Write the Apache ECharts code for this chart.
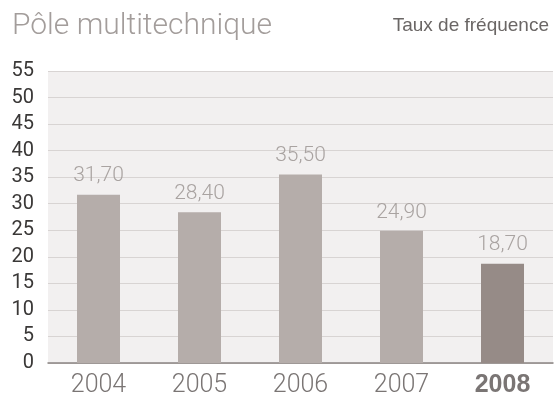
<!DOCTYPE html>
<html>
<head>
<meta charset="utf-8">
<script src="https://cdn.jsdelivr.net/npm/echarts@6/dist/echarts.min.js"></script>
<style>
	* { margin: 0; padding: 0; }
	body { background: #fff; }
	#main { width: 558px; height: 411px; }
</style>
</head>
<body>
<div id="main"></div>
<script>
	var years = ['2004', '2005', '2006', '2007', '2008'];
	var values = [31.7, 28.4, 35.5, 24.9, 18.7];
	var yTicks = [0, 5, 10, 15, 20, 25, 30, 35, 40, 45, 50, 55];

	var barColor = '#b5adaa';
	var lastColor = '#968b87';

	var chart = echarts.init(document.getElementById('main'));
	chart.setOption({
		animation: false,
		textStyle: { fontFamily: 'Roboto, sans-serif' },
		title: [{
			text: 'Pôle multitechnique',
			left: 7,
			top: 6,
			textStyle: { fontSize: 30, fontWeight: 300, color: '#a39d9b', fontFamily: 'Roboto' }
		}, {
			text: 'Taux de fréquence',
			right: 4,
			top: 11,
			textStyle: { fontSize: 19, fontWeight: 'normal', color: '#6a6665', fontFamily: '"Liberation Sans", Arial' }
		}],
		grid: {
			left: 48,
			right: 5,
			top: 71,
			bottom: 48,
			show: true,
			backgroundColor: '#f2f0f0',
			borderWidth: 0
		},
		xAxis: {
			type: 'category',
			data: years,
			axisTick: { show: false },
			axisLine: { lineStyle: { color: '#8a8483', width: 1.5 } },
			axisLabel: {
				interval: 0,
				fontSize: 25,
				color: '#7a7574',
				fontWeight: 300,
				margin: 10,
				formatter: function (v) {
					return v === '2008' ? '{b|' + v + '}' : v;
				},
				rich: {
					b: { fontSize: 25, fontWeight: 'bold', color: '#7a7574', fontFamily: '"Liberation Sans", Arial' }
				}
			}
		},
		yAxis: {
			type: 'value',
			min: 0,
			max: 55,
			interval: 5,
			axisLine: { show: false },
			axisTick: { show: false },
			splitLine: { lineStyle: { color: '#d8d4d3', width: 1 } },
			axisLabel: {
				fontSize: 20,
				color: '#3a3837',
				margin: 14,
				customValues: yTicks
			}
		},
		series: [{
			type: 'bar',
			barWidth: 43,
			data: values.map(function (v, i) {
				return { value: v, itemStyle: { color: i === values.length - 1 ? lastColor : barColor } };
			}),
			label: {
				show: true,
				position: 'top',
				distance: 8,
				fontSize: 21,
				fontWeight: 300,
				color: '#a9a3a1',
				formatter: function (p) {
					return p.value.toFixed(2).replace('.', ',');
				}
			}
		}]
	});
</script>
</body>
</html>
